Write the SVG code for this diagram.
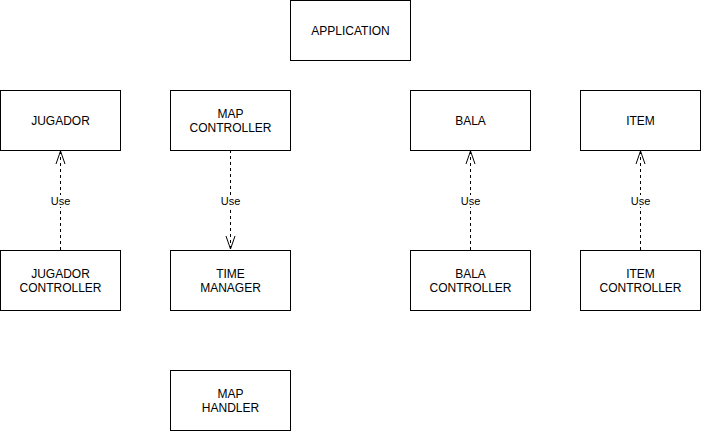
<svg xmlns="http://www.w3.org/2000/svg" width="701" height="431" viewBox="0 0 701 431">
<style>
.box{fill:#fff;stroke:#000;stroke-width:1}
.t{font-family:"Liberation Sans",Arial,sans-serif;font-size:12px;fill:#000;text-anchor:middle}
.edge{fill:none;stroke:#000;stroke-width:1;stroke-dasharray:3 3}
.head{fill:none;stroke:#000;stroke-width:1}
.lbl{font-family:"Liberation Sans",Arial,sans-serif;font-size:11px;fill:#000;text-anchor:middle}
</style>
<rect width="701" height="431" fill="#fff"/>
<g id="connectors">
  <g id="e1"><path class="edge" d="M60.5 250 V151"/><path class="head" d="M56 164 L60.5 151 L65 164"/><rect x="49" y="195" width="23" height="12" fill="#fff"/><text class="lbl" x="60.5" y="205">Use</text></g>
  <g id="e2"><path class="edge" d="M230.5 150 V249"/><path class="head" d="M226 236 L230.5 249 L235 236"/><rect x="219" y="195" width="23" height="12" fill="#fff"/><text class="lbl" x="230.5" y="205">Use</text></g>
  <g id="e3"><path class="edge" d="M470.5 250 V151"/><path class="head" d="M466 164 L470.5 151 L475 164"/><rect x="459" y="195" width="23" height="12" fill="#fff"/><text class="lbl" x="470.5" y="205">Use</text></g>
  <g id="e4"><path class="edge" d="M640.5 250 V151"/><path class="head" d="M636 164 L640.5 151 L645 164"/><rect x="629" y="195" width="23" height="12" fill="#fff"/><text class="lbl" x="640.5" y="205">Use</text></g>
</g>
<g id="application"><rect class="box" x="290.5" y="0.5" width="120" height="60"/><text class="t" x="350.5" y="35">APPLICATION</text></g>
<g id="jugador"><rect class="box" x="0.5" y="90.5" width="120" height="60"/><text class="t" x="60.5" y="125">JUGADOR</text></g>
<g id="mapcontroller"><rect class="box" x="170.5" y="90.5" width="120" height="60"/><text class="t" x="230.5" y="118">MAP</text><text class="t" x="230.5" y="132">CONTROLLER</text></g>
<g id="bala"><rect class="box" x="410.5" y="90.5" width="120" height="60"/><text class="t" x="470.5" y="125">BALA</text></g>
<g id="item"><rect class="box" x="580.5" y="90.5" width="120" height="60"/><text class="t" x="640.5" y="125">ITEM</text></g>
<g id="jugadorcontroller"><rect class="box" x="0.5" y="250.5" width="120" height="60"/><text class="t" x="60.5" y="278">JUGADOR</text><text class="t" x="60.5" y="292">CONTROLLER</text></g>
<g id="timemanager"><rect class="box" x="170.5" y="250.5" width="120" height="60"/><text class="t" x="230.5" y="278">TIME</text><text class="t" x="230.5" y="292">MANAGER</text></g>
<g id="balacontroller"><rect class="box" x="410.5" y="250.5" width="120" height="60"/><text class="t" x="470.5" y="278">BALA</text><text class="t" x="470.5" y="292">CONTROLLER</text></g>
<g id="itemcontroller"><rect class="box" x="580.5" y="250.5" width="120" height="60"/><text class="t" x="640.5" y="278">ITEM</text><text class="t" x="640.5" y="292">CONTROLLER</text></g>
<g id="maphandler"><rect class="box" x="170.5" y="370.5" width="120" height="60"/><text class="t" x="230.5" y="398">MAP</text><text class="t" x="230.5" y="412">HANDLER</text></g>
</svg>
